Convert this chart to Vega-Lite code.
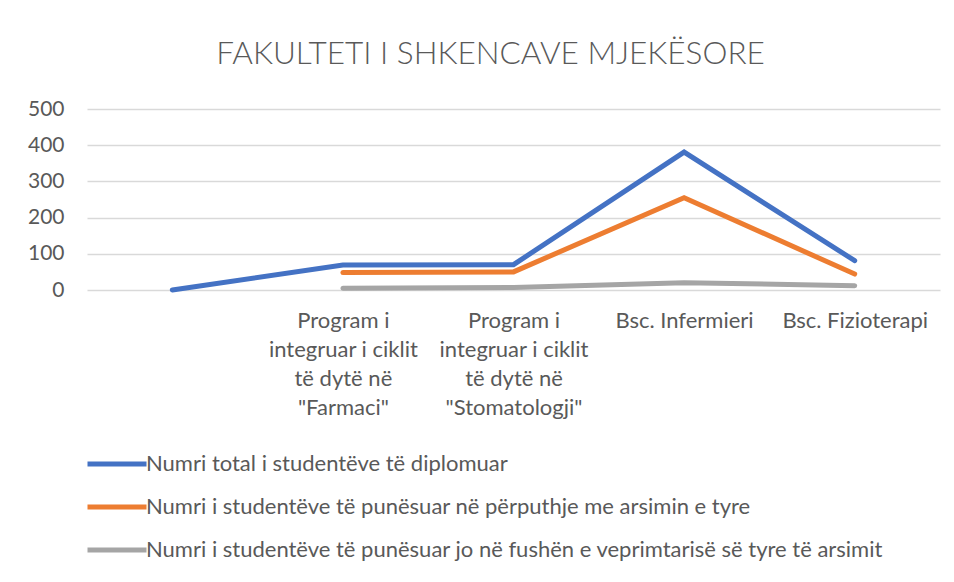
{
  "$schema": "https://vega.github.io/schema/vega-lite/v6.json",
  "width": 853,
  "height": 181,
  "autosize": {"type": "none"},
  "padding": {"left": 87, "top": 109, "right": 14, "bottom": 292},
  "background": "white",
  "title": {
    "text": "FAKULTETI I SHKENCAVE MJEKËSORE",
    "font": "Lato",
    "fontSize": 31.5,
    "fontWeight": 300,
    "color": "#595959",
    "anchor": "middle",
    "offset": 28,
    "dx": -23
  },
  "data": {
    "values": [
      {"program": "", "series": "Numri total i studentëve të diplomuar", "value": 0},
      {"program": "Program i integruar i ciklit të dytë në \"Farmaci\"", "series": "Numri total i studentëve të diplomuar", "value": 69},
      {"program": "Program i integruar i ciklit të dytë në \"Stomatologji\"", "series": "Numri total i studentëve të diplomuar", "value": 70},
      {"program": "Bsc. Infermieri", "series": "Numri total i studentëve të diplomuar", "value": 381},
      {"program": "Bsc. Fizioterapi", "series": "Numri total i studentëve të diplomuar", "value": 81},
      {"program": "Program i integruar i ciklit të dytë në \"Farmaci\"", "series": "Numri i studentëve të punësuar në përputhje me arsimin e tyre", "value": 48},
      {"program": "Program i integruar i ciklit të dytë në \"Stomatologji\"", "series": "Numri i studentëve të punësuar në përputhje me arsimin e tyre", "value": 50},
      {"program": "Bsc. Infermieri", "series": "Numri i studentëve të punësuar në përputhje me arsimin e tyre", "value": 255},
      {"program": "Bsc. Fizioterapi", "series": "Numri i studentëve të punësuar në përputhje me arsimin e tyre", "value": 44},
      {"program": "Program i integruar i ciklit të dytë në \"Farmaci\"", "series": "Numri i studentëve të punësuar jo në fushën e veprimtarisë së tyre të arsimit", "value": 5},
      {"program": "Program i integruar i ciklit të dytë në \"Stomatologji\"", "series": "Numri i studentëve të punësuar jo në fushën e veprimtarisë së tyre të arsimit", "value": 7},
      {"program": "Bsc. Infermieri", "series": "Numri i studentëve të punësuar jo në fushën e veprimtarisë së tyre të arsimit", "value": 20},
      {"program": "Bsc. Fizioterapi", "series": "Numri i studentëve të punësuar jo në fushën e veprimtarisë së tyre të arsimit", "value": 12}
    ]
  },
  "mark": {"type": "line", "strokeWidth": 5, "strokeCap": "round"},
  "encoding": {
    "x": {
      "field": "program",
      "type": "ordinal",
      "sort": null,
      "scale": {"type": "point", "padding": 0.5},
      "axis": {
        "title": null,
        "domain": false,
        "ticks": false,
        "labelAngle": 0,
        "labelFont": "Lato",
        "labelFontSize": 22,
        "labelColor": "#595959",
        "labelPadding": 20,
        "labelLineHeight": 29,
        "labelLimit": 0,
        "labelExpr": "split(replace(replace(replace(datum.value, 'Program i ', 'Program i|'), 'ciklit ', 'ciklit|'), 'në ', 'në|'), '|')"
      }
    },
    "y": {
      "field": "value",
      "type": "quantitative",
      "scale": {"domain": [0, 500]},
      "axis": {
        "title": null,
        "values": [0, 100, 200, 300, 400, 500],
        "domain": false,
        "ticks": false,
        "gridColor": "#d9d9d9",
        "gridWidth": 1.5,
        "labelFont": "Lato",
        "labelFontSize": 21,
        "labelColor": "#595959",
        "labelPadding": 23
      }
    },
    "color": {
      "field": "series",
      "type": "nominal",
      "scale": {
        "domain": [
          "Numri total i studentëve të diplomuar",
          "Numri i studentëve të punësuar në përputhje me arsimin e tyre",
          "Numri i studentëve të punësuar jo në fushën e veprimtarisë së tyre të arsimit"
        ],
        "range": ["#4472C4", "#ED7D31", "#A5A5A5"]
      },
      "legend": {
        "title": null,
        "orient": "none",
        "legendX": -2,
        "legendY": 323,
        "direction": "vertical",
        "symbolType": "stroke",
        "symbolSize": 3481,
        "symbolStrokeWidth": 5,
        "labelFont": "Lato",
        "labelFontSize": 22,
        "labelColor": "#595959",
        "labelOffset": -3,
        "labelLimit": 0,
        "rowPadding": -14
      }
    }
  },
  "config": {"view": {"stroke": null}}
}
